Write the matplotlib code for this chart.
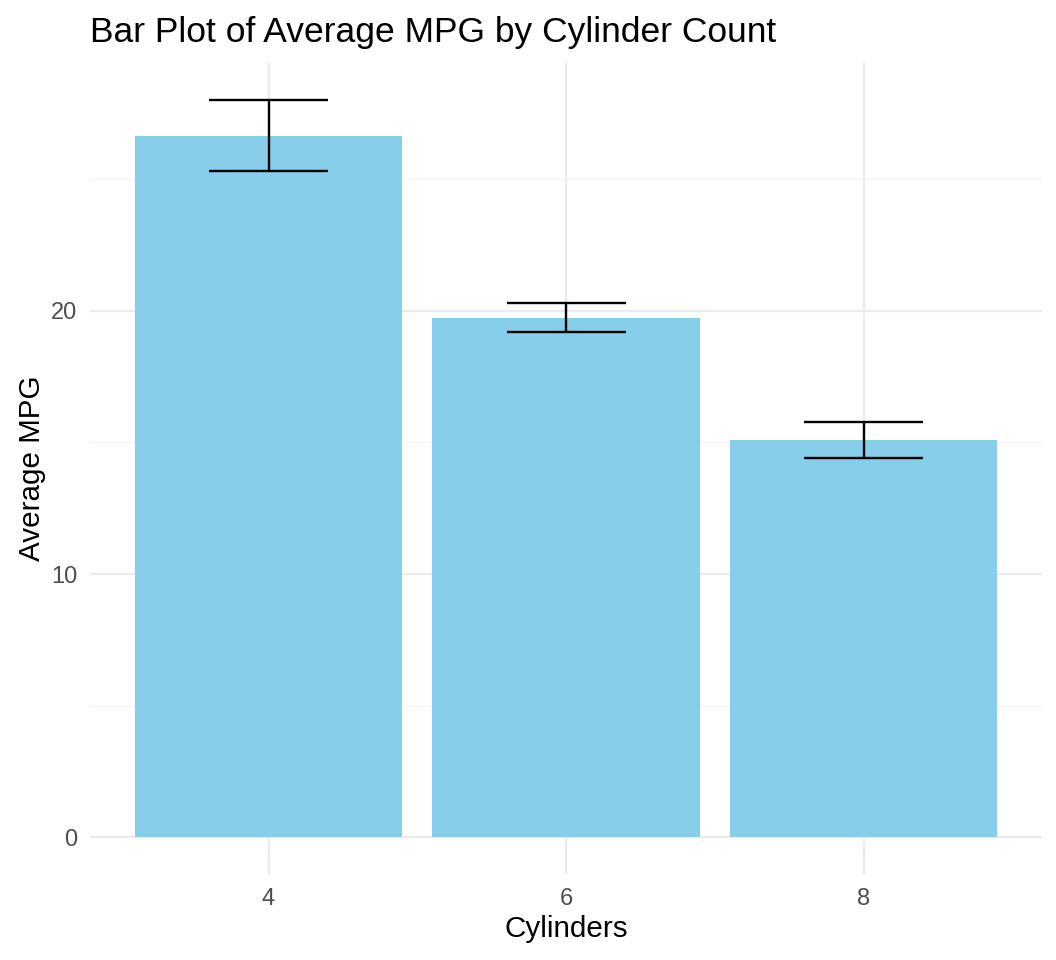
import matplotlib
matplotlib.use("Agg")
import matplotlib.pyplot as plt
import numpy as np

categories = ["4", "6", "8"]
means = [26.66, 19.74, 15.10]
se = [1.36, 0.55, 0.68]

plt.rcParams['font.family'] = ['Liberation Sans', 'DejaVu Sans']

fig = plt.figure(figsize=(10.56, 9.6), dpi=100)
ax = fig.add_axes([90/1056, (960-874)/960, (1042-90)/1056, (874-63)/960])

x = np.arange(1, len(categories) + 1)
ax.bar(x, means, width=0.9, color="#87CEEB", zorder=2)
lo = np.array(means) - np.array(se)
hi = np.array(means) + np.array(se)
ax.vlines(x, lo, hi, color="black", linewidth=1.7, zorder=3)
ax.hlines(lo, x - 0.2, x + 0.2, color="black", linewidth=1.7, zorder=3)
ax.hlines(hi, x - 0.2, x + 0.2, color="black", linewidth=1.7, zorder=3)

ymax = hi.max()
ax.set_ylim(-0.05 * ymax, ymax * 1.05)
ax.set_xlim(0.4, 3.6)
ax.set_xticks(x)
ax.set_xticklabels(categories)
ax.set_yticks([0, 10, 20])
ax.set_yticks([5, 15, 25], minor=True)

for s in ax.spines.values():
    s.set_visible(False)
ax.grid(True, which="major", color="#EBEBEB", linewidth=1.6, zorder=0)
ax.grid(True, which="minor", axis="y", color="#F2F2F2", linewidth=0.9, zorder=0)
ax.set_axisbelow(True)
ax.tick_params(which="both", length=0, labelsize=17, labelcolor="#4D4D4D")
ax.tick_params(axis="y", pad=9)
ax.tick_params(axis="x", pad=10)

ax.set_xlabel("Cylinders", fontsize=21.3, labelpad=4)
ax.set_ylabel("Average MPG", fontsize=21.3, labelpad=4)
ax.set_title("Bar Plot of Average MPG by Cylinder Count", fontsize=25.5, loc="left", pad=15)

fig.savefig("out.png", dpi=100)
